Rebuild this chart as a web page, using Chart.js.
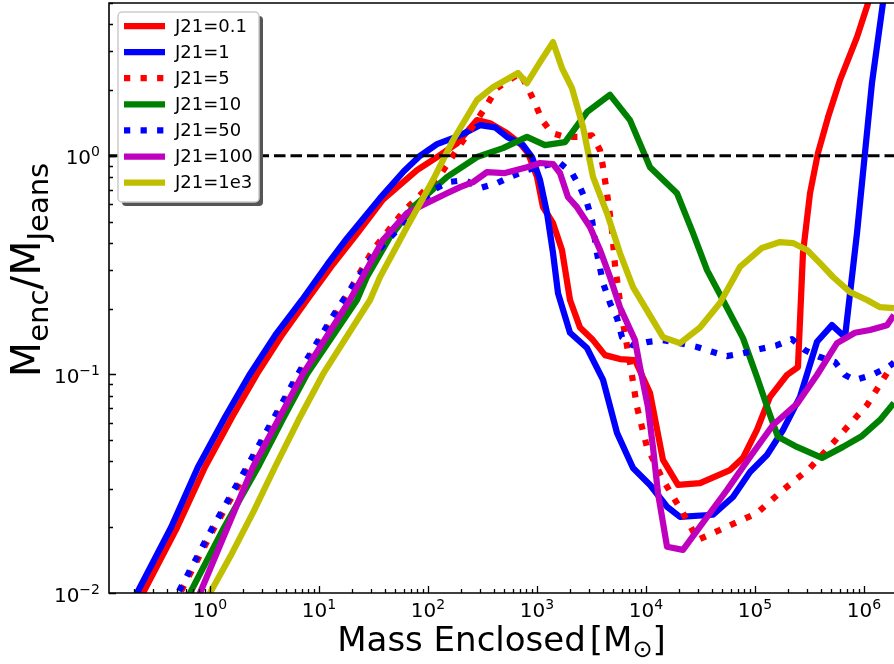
<!DOCTYPE html>
<html>
<head>
<meta charset="utf-8">
<script src="https://cdn.jsdelivr.net/npm/chart.js@4/dist/chart.umd.min.js"></script>
<style>
  html, body { margin: 0; padding: 0; background: #fff; }
  #plot { display: block; }
</style>
</head>
<body>
<canvas id="plot" width="894" height="664"></canvas>
<script>
// Enclosed mass [Msun] and M_enc / M_Jeans profiles for each J21 run
const massJ0p1  = [0.185, 0.243, 0.50, 0.90, 1.60, 2.70, 4.60, 7.76, 13.5, 22.3, 38.6, 79.3, 121, 184.5, 281.5, 370.7, 531, 698, 826, 1000, 1135, 1403, 1695, 2009, 2478, 3265, 4206, 5770, 7925, 10890, 14320, 19660, 31300, 59000, 77600, 104200, 137300, 196600, 247800, 275500, 319700, 378300, 467700, 602300, 862600, 1089000, 1288000];
const ratioJ0p1 = [0.00753, 0.0100, 0.0200, 0.0377, 0.0640, 0.1005, 0.152, 0.219, 0.320, 0.440, 0.630, 0.86, 0.987, 1.14, 1.456, 1.41, 1.27, 1.14, 1.03, 0.80, 0.583, 0.492, 0.371, 0.219, 0.164, 0.1435, 0.1225, 0.1175, 0.1163, 0.0822, 0.0406, 0.0312, 0.0318, 0.0365, 0.0415, 0.0557, 0.0789, 0.0994, 0.108, 0.359, 0.674, 1.03, 1.50, 2.22, 3.49, 4.99, 7.08];

const massJ1  = [0.163, 0.214, 0.44, 0.776, 1.38, 2.33, 4.00, 6.98, 12.0, 18.1, 36.3, 60.0, 84.5, 121, 197, 300, 412, 531, 745, 900, 1066, 1236, 1403, 1560, 2009, 2877, 4036, 5420, 7600, 10890, 15600, 20500, 41200, 62800, 90000, 128800, 180700, 258800, 370700, 508000, 669500, 862600, 1021000, 1183000, 1492000, 1734000];
const ratioJ1 = [0.00753, 0.0100, 0.0200, 0.0377, 0.0640, 0.1005, 0.152, 0.219, 0.320, 0.420, 0.640, 0.85, 1.00, 1.13, 1.24, 1.38, 1.35, 1.22, 1.12, 0.987, 0.774, 0.547, 0.359, 0.235, 0.155, 0.132, 0.0944, 0.054, 0.0373, 0.0312, 0.0248, 0.0223, 0.0228, 0.0275, 0.0358, 0.0428, 0.0557, 0.0789, 0.141, 0.168, 0.148, 0.443, 1.03, 2.15, 4.99, 7.85];

const massJ5  = [0.386, 0.531, 1.10, 2.28, 4.00, 6.70, 15.6, 31.3, 59.0, 128.8, 197, 281.5, 347.6, 429.5, 698, 826, 959, 1111, 1373, 1807, 2377, 3197, 3785, 4036, 4480, 4875, 5195, 5535, 6025, 7130, 8265, 10200, 14320, 21830, 30000, 55300, 104200, 180700, 319700, 520000, 1066000, 1884000];
const ratioJ5 = [0.00753, 0.0100, 0.0200, 0.0377, 0.0630, 0.1005, 0.203, 0.371, 0.553, 0.816, 1.12, 1.456, 1.71, 2.04, 2.39, 2.04, 1.74, 1.456, 1.27, 1.22, 1.22, 1.24, 1.06, 0.887, 0.627, 0.457, 0.316, 0.251, 0.183, 0.113, 0.071, 0.0466, 0.0329, 0.0232, 0.0175, 0.0201, 0.0232, 0.0296, 0.0373, 0.0486, 0.0724, 0.114];

const massJ10  = [0.478, 0.656, 1.35, 2.76, 4.70, 7.76, 22.3, 27.5, 44.8, 72.8, 149.3, 281.5, 487.5, 809, 1183, 1807, 2877, 4675, 7130, 10890, 19250, 27000, 36300, 50800, 77600, 104200, 137300, 162500, 242700, 412000, 641800, 959000, 1403000, 1884000];
const ratioJ10 = [0.00753, 0.0100, 0.0200, 0.0377, 0.0630, 0.1005, 0.219, 0.279, 0.425, 0.582, 0.80, 0.987, 1.084, 1.22, 1.12, 1.155, 1.585, 1.90, 1.456, 0.887, 0.674, 0.443, 0.300, 0.219, 0.1466, 0.0973, 0.0652, 0.0518, 0.0466, 0.0415, 0.0466, 0.0523, 0.0619, 0.074];

const massJ50  = [0.371, 0.509, 1.06, 2.18, 3.85, 6.42, 14.9, 30.6, 55.3, 111, 152.5, 218, 300, 429.5, 565, 809, 1236, 1625, 2094, 2478, 2877, 3197, 3550, 4036, 4675, 5420, 6025, 7600, 10200, 14320, 20500, 29360, 41200, 55300, 77600, 111200, 159200, 218400, 287500, 394500, 541600, 669500, 826000, 1183000, 1660000, 1884000];
const ratioJ50 = [0.00753, 0.0100, 0.0200, 0.0377, 0.0630, 0.1005, 0.201, 0.344, 0.472, 0.697, 0.758, 0.774, 0.711, 0.750, 0.80, 0.86, 0.908, 0.927, 0.834, 0.719, 0.608, 0.508, 0.359, 0.262, 0.212, 0.181, 0.148, 0.136, 0.1406, 0.1435, 0.139, 0.1335, 0.1265, 0.1213, 0.125, 0.1306, 0.136, 0.145, 0.129, 0.120, 0.114, 0.0994, 0.0942, 0.0994, 0.108, 0.113];

const massJ100  = [0.642, 0.81, 1.45, 2.48, 4.30, 7.13, 19.2, 38.6, 64.2, 98, 149.3, 197, 259, 347.6, 508, 809, 1066, 1403, 1625, 1923, 2328, 3063, 3785, 4675, 5770, 7925, 8810, 10420, 11580, 12880, 15600, 21830, 31300, 55300, 90000, 146300, 242700, 370700, 565500, 826000, 1135000, 1626000, 1884000];
const ratioJ100 = [0.00753, 0.0100, 0.0200, 0.0377, 0.0630, 0.1005, 0.219, 0.412, 0.547, 0.608, 0.674, 0.719, 0.758, 0.842, 0.834, 0.887, 0.927, 0.917, 0.834, 0.648, 0.582, 0.472, 0.371, 0.279, 0.203, 0.1435, 0.108, 0.071, 0.0466, 0.0287, 0.01627, 0.01574, 0.0201, 0.0296, 0.0419, 0.0587, 0.0733, 0.0994, 0.139, 0.155, 0.1596, 0.168, 0.187];

const massJ1e3  = [0.728, 1.0, 1.525, 2.50, 3.95, 6.50, 10.9, 29.4, 36.3, 64.2, 111, 169.5, 281.5, 394.5, 670, 809, 1066, 1403, 1695, 2094, 2642, 3265, 4385, 5770, 7600, 14320, 20500, 31300, 47700, 72800, 115900, 169500, 223200, 300000, 394500, 520000, 744700, 1066000, 1403000, 1884000];
const ratioJ1e3 = [0.00753, 0.0100, 0.0146, 0.0235, 0.0377, 0.0620, 0.1005, 0.219, 0.279, 0.472, 0.774, 1.178, 1.80, 2.06, 2.39, 2.15, 2.68, 3.31, 2.52, 2.04, 1.355, 0.80, 0.547, 0.359, 0.251, 0.148, 0.139, 0.164, 0.212, 0.310, 0.379, 0.403, 0.399, 0.371, 0.323, 0.279, 0.238, 0.219, 0.203, 0.201];

const seriesLabels = ['J21=0.1', 'J21=1', 'J21=5', 'J21=10', 'J21=50', 'J21=100', 'J21=1e3'];

// Jeans threshold (M_enc = M_Jeans)
const jeansLevel = 1;

// axis ranges and major ticks
const X_MIN = 0.1184, X_MAX = 1.885e6;
const Y_MIN = 0.01, Y_MAX = 5.0;
const xMajorTicks = [1e0, 1e1, 1e2, 1e3, 1e4, 1e5, 1e6];
const yMajorTicks = [1e-2, 1e-1, 1e0];

const FONT = '"DejaVu Sans", "Liberation Sans", sans-serif';
const LW = 6.25;
const DOT = [6.25, 10.3];

function pts(m, r) { return m.map((v, i) => ({ x: v, y: r[i] })); }

function series(label, m, r, color, dash, order) {
  return {
    label, data: pts(m, r), borderColor: color, backgroundColor: color,
    borderWidth: LW, borderDash: dash, borderJoinStyle: 'round',
    borderCapStyle: 'butt', fill: false, pointRadius: 0, tension: 0,
    clip: 0, order, inLegend: true
  };
}

const datasets = [
  {
    label: 'threshold', data: [{ x: X_MIN, y: jeansLevel }, { x: X_MAX, y: jeansLevel }],
    borderColor: '#000', borderWidth: 3.1, borderDash: [11.5, 5], pointRadius: 0,
    fill: false, clip: 0, order: 0, inLegend: false
  },
  series(seriesLabels[0], massJ0p1, ratioJ0p1, '#ff0000', [], 7),
  series(seriesLabels[1], massJ1, ratioJ1, '#0000ff', [], 6),
  series(seriesLabels[2], massJ5, ratioJ5, '#ff0000', DOT, 5),
  series(seriesLabels[3], massJ10, ratioJ10, '#008000', [], 4),
  series(seriesLabels[4], massJ50, ratioJ50, '#0000ff', DOT, 3),
  series(seriesLabels[5], massJ100, ratioJ100, '#bf00bf', [], 2),
  series(seriesLabels[6], massJ1e3, ratioJ1e3, '#bfbf00', [], 1)
];

function expText(v) {
  const e = Math.round(Math.log10(v));
  return e < 0 ? '\u2212' + (-e) : String(e);
}

// draw a run of text pieces with differing sizes / vertical offsets
function runWidth(ctx, parts) {
  let w = 0;
  for (const p of parts) { ctx.font = p.size + 'px ' + FONT; w += ctx.measureText(p.t).width + (p.gap || 0); }
  return w;
}
function drawRun(ctx, parts, x, y) {
  let cx = x;
  for (const p of parts) {
    ctx.font = p.size + 'px ' + FONT;
    ctx.fillText(p.t, cx, y + (p.dy || 0));
    cx += ctx.measureText(p.t).width + (p.gap || 0);
  }
}

const axesPlugin = {
  id: 'mplAxes',
  afterDatasetsDraw(chart) {
    const { ctx, chartArea: a } = chart;
    const xs = chart.scales.x, ys = chart.scales.y;
    ctx.save();
    ctx.strokeStyle = '#000';
    ctx.fillStyle = '#000';
    ctx.lineWidth = 1.6;
    ctx.beginPath();
    ctx.moveTo(a.right + 2, a.top); ctx.lineTo(a.left, a.top);
    ctx.lineTo(a.left, a.bottom); ctx.lineTo(a.right + 2, a.bottom);
    ctx.stroke();

    ctx.lineWidth = 1.3;
    ctx.beginPath();
    // x ticks (inward)
    for (let d = -1; d <= 6; d++) {
      for (let k = 1; k <= 9; k++) {
        const v = k * Math.pow(10, d);
        if (v < X_MIN || v > X_MAX) continue;
        const px = Math.round(xs.getPixelForValue(v)) + 0.5;
        const len = k === 1 ? 7 : 4;
        ctx.moveTo(px, a.bottom); ctx.lineTo(px, a.bottom - len);
      }
    }
    // y ticks (inward)
    for (let d = -2; d <= 0; d++) {
      for (let k = 1; k <= 9; k++) {
        const v = k * Math.pow(10, d);
        if (v < Y_MIN - 1e-9 || v > Y_MAX) continue;
        const py = Math.round(ys.getPixelForValue(v)) + 0.5;
        const len = k === 1 ? 7 : 4;
        ctx.moveTo(a.left, py); ctx.lineTo(a.left + len, py);
      }
    }
    ctx.stroke();

    // tick labels
    ctx.textBaseline = 'alphabetic';
    ctx.textAlign = 'left';
    for (const v of xMajorTicks) {
      const px = xs.getPixelForValue(v);
      const parts = [{ t: '10', size: 20 }, { t: expText(v), size: 14, dy: -8 }];
      const w = runWidth(ctx, parts);
      drawRun(ctx, parts, px - w / 2, a.bottom + 24);
    }
    for (const v of yMajorTicks) {
      const py = ys.getPixelForValue(v);
      const parts = [{ t: '10', size: 20 }, { t: expText(v), size: 14, dy: -8 }];
      const w = runWidth(ctx, parts);
      drawRun(ctx, parts, a.left - 9 - w, py + 8.5);
    }

    // x axis title
    const xt = [{ t: 'Mass Enclosed', size: 34, gap: 4 }, { t: '[M', size: 34 },
                { t: '\u2299', size: 24, dy: 6 }, { t: ']', size: 34 }];
    const xw = runWidth(ctx, xt);
    drawRun(ctx, xt, (a.left + a.right) / 2 - xw / 2, 651);

    // y axis title (rotated)
    const yt = [{ t: 'M', size: 41 }, { t: 'enc', size: 29, dy: 8 }, { t: '/M', size: 41 }, { t: 'Jeans', size: 29, dy: 8 }];
    const yw = runWidth(ctx, yt);
    ctx.save();
    ctx.translate(40, 270);
    ctx.rotate(-Math.PI / 2);
    drawRun(ctx, yt, -yw / 2, 0);
    ctx.restore();
    ctx.restore();
  }
};

const legendPlugin = {
  id: 'boxLegend',
  afterDraw(chart) {
    const { ctx, chartArea: a } = chart;
    const items = chart.data.datasets.filter(d => d.inLegend);
    const left = a.left + 9, top = a.top + 9, w = 141, h = 190;
    const rowH = 26.1, firstRow = top + 14;
    ctx.save();
    // shadow
    ctx.fillStyle = '#555';
    ctx.beginPath(); ctx.roundRect(left + 4, top + 4, w, h, 4); ctx.fill();
    // frame
    ctx.fillStyle = '#fff';
    ctx.strokeStyle = '#cccccc';
    ctx.lineWidth = 1.5;
    ctx.beginPath(); ctx.roundRect(left, top, w, h, 4); ctx.fill(); ctx.stroke();
    items.forEach((d, i) => {
      const y = firstRow + i * rowH;
      ctx.strokeStyle = d.borderColor;
      ctx.lineWidth = LW;
      ctx.lineCap = 'butt';
      ctx.setLineDash(d.borderDash || []);
      ctx.beginPath();
      ctx.moveTo(left + 6, y); ctx.lineTo(left + 47, y);
      ctx.stroke();
      ctx.setLineDash([]);
      ctx.fillStyle = '#000';
      ctx.font = '18px ' + FONT;
      ctx.textBaseline = 'middle';
      ctx.fillText(d.label, left + 57, y + 1);
    });
    ctx.restore();
  }
};

new Chart(document.getElementById('plot'), {
  type: 'line',
  data: { datasets },
  options: {
    responsive: false,
    animation: false,
    devicePixelRatio: 1,
    parsing: true,
    layout: { padding: { left: 109, right: 0, top: 3, bottom: 71 } },
    scales: {
      x: { type: 'logarithmic', min: X_MIN, max: X_MAX, display: false },
      y: { type: 'logarithmic', min: Y_MIN, max: Y_MAX, display: false }
    },
    plugins: { legend: { display: false }, tooltip: { enabled: false } },
    elements: { point: { radius: 0 } }
  },
  plugins: [axesPlugin, legendPlugin]
});
</script>
</body>
</html>
